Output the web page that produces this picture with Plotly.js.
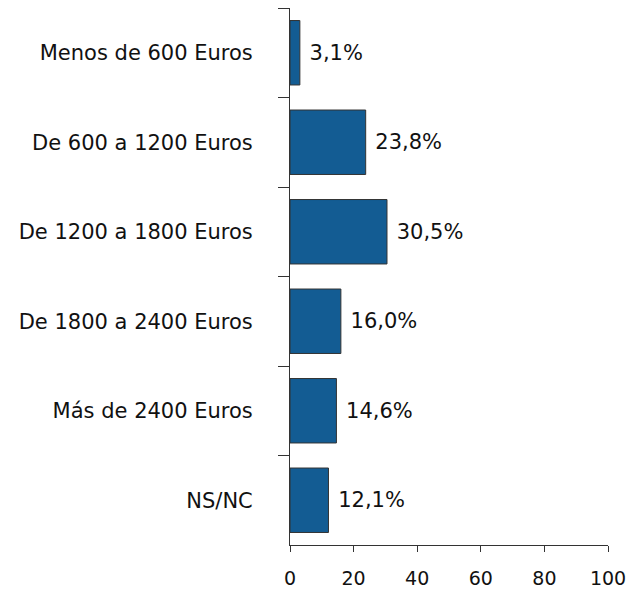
<!DOCTYPE html>
<html>
<head>
<meta charset="utf-8">
<script src="https://cdn.plot.ly/plotly-3.0.1.min.js"></script>
<style>html,body{margin:0;padding:0;background:#fff;}#chart{width:626px;height:592px;}</style>
</head>
<body>
<div id="chart"></div>
<script>
const categories = ["Menos de 600 Euros", "De 600 a 1200 Euros", "De 1200 a 1800 Euros", "De 1800 a 2400 Euros", "Más de 2400 Euros", "NS/NC"];
const values = [3.1, 23.8, 30.5, 16.0, 14.6, 12.1];
const xTicks = [0, 20, 40, 60, 80, 100];

const font = {family: "DejaVu Sans, Verdana, sans-serif", size: 21, color: "#111"};
const xFont = {family: "DejaVu Sans, Verdana, sans-serif", size: 19, color: "#111"};

Plotly.newPlot("chart", [{
  type: "bar",
  orientation: "h",
  x: values,
  y: categories,
  width: 0.72,
  marker: {color: "#135c93", line: {color: "#333", width: 1}},
  text: values.map(v => "\u00a0" + v.toFixed(1).replace(".", ",") + "%"),
  textposition: "outside",
  textfont: font,
  cliponaxis: false,
  hoverinfo: "none"
}], {
  width: 626, height: 592,
  margin: {l: 290, r: 18, t: 8, b: 47},
  paper_bgcolor: "#fff", plot_bgcolor: "#fff",
  font: font,
  showlegend: false,
  xaxis: {
    range: [0, 100], tickvals: xTicks, ticktext: xTicks.map(String),
    showgrid: false, zeroline: false, showline: true, linecolor: "#333", linewidth: 1,
    ticks: "outside", ticklen: 6, tickcolor: "#333", tickwidth: 1,
    tickfont: xFont, ticklabelstandoff: 10, ticklabeloverflow: "allow"
  },
  yaxis: {
    type: "category", categoryorder: "array", categoryarray: categories,
    range: [5.5, -0.5], tickson: "boundaries",
    showgrid: false, zeroline: false, showline: true, linecolor: "#333", linewidth: 1,
    ticks: "outside", ticklen: 11, tickcolor: "#333", tickwidth: 1,
    tickfont: font, ticklabelstandoff: 32
  }
}, {staticPlot: true});
</script>
</body>
</html>
